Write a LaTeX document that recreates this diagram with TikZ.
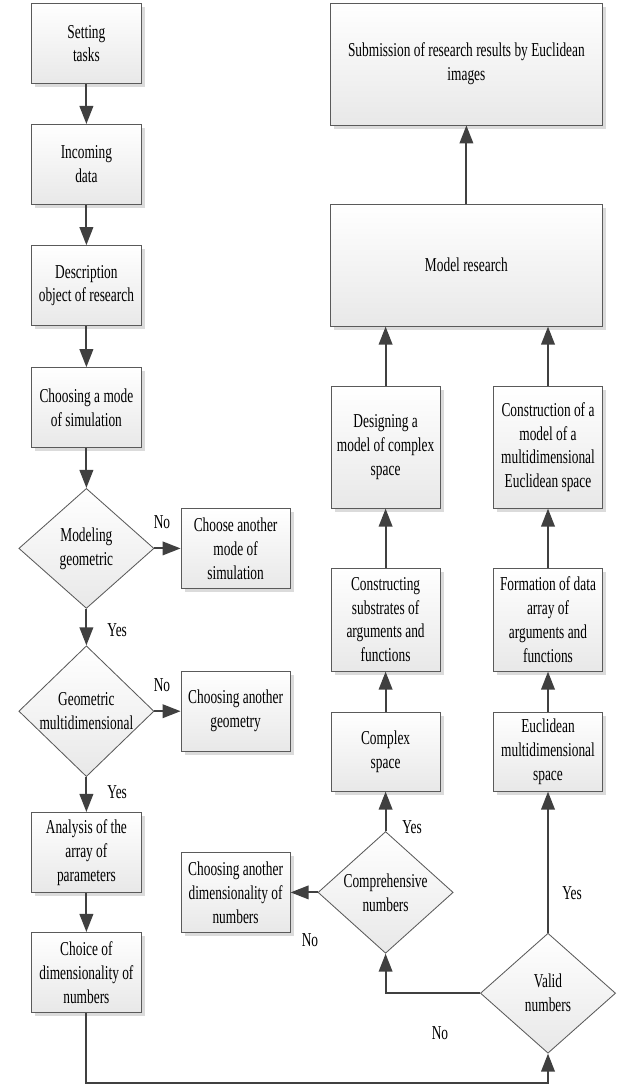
\documentclass[tikz,border=0pt]{standalone}
\usepackage{fontspec}
\setmainfont{Liberation Serif}[FakeStretch=0.68]
\usepackage{tikz}
\usetikzlibrary{arrows.meta,shapes.geometric,shadows}

\definecolor{linegray}{HTML}{404040}
\definecolor{edgegray}{HTML}{5A5A5A}

\begin{document}
\begin{tikzpicture}[
  font=\fontsize{14}{17}\selectfont,
  box/.style={rectangle, draw=edgegray, line width=0.6pt, top color=white, bottom color=black!9,
    align=center, inner sep=1pt, minimum width=2.73cm, minimum height=2cm,
    drop shadow={shadow xshift=0.09cm, shadow yshift=-0.09cm, fill=black!20, opacity=0.7}},
  ask/.style={diamond, draw=edgegray, line width=0.6pt, top color=white, bottom color=black!9,
    align=center, inner sep=0pt, minimum width=3.38cm, minimum height=3cm},
  flow/.style={draw=linegray, line width=1.3pt, -{Triangle[length=0.45cm, width=0.34cm]}},
  lbl/.style={inner sep=0pt}
  ]
	\useasboundingbox (0cm,0cm) rectangle (15.55cm,-27.15cm);
	% left column
	\node[box] (B1) at (2.16cm,-1.09cm) {Setting\\tasks};
	\node[box] (B2) at (2.16cm,-4.11cm) {Incoming\\data};
	\node[box] (B3) at (2.16cm,-7.14cm) {Description\\object of research};
	\node[box] (B4) at (2.16cm,-10.19cm) {Choosing a mode\\of simulation};
	\node[ask] (D1) at (2.16cm,-13.71cm) {Modeling\\geometric};
	\node[box] (A1) at (5.89cm,-13.71cm) {Choose another\\mode of\\simulation};
	\node[ask] (D2) at (2.16cm,-17.78cm) {Geometric\\multidimensional};
	\node[box] (A2) at (5.89cm,-17.78cm) {Choosing another\\geometry};
	\node[box] (B5) at (2.16cm,-21.31cm) {Analysis of the\\array of\\parameters};
	\node[box] (B6) at (2.16cm,-24.31cm) {Choice of\\dimensionality of\\numbers};
	\node[box] (A3) at (5.89cm,-22.31cm) {Choosing another\\dimensionality of\\numbers};
	% right columns
	\node[box, minimum width=6.78cm, minimum height=3.05cm] (R1) at (11.66cm,-1.6cm) {Submission of research results by Euclidean\\images};
	\node[box, minimum width=6.78cm, minimum height=3.05cm] (R2) at (11.66cm,-6.63cm) {Model research};
	\node[box, minimum height=3.05cm] (C1) at (9.64cm,-11.18cm) {Designing a\\model of complex\\space};
	\node[box, minimum height=2.58cm] (C2) at (9.64cm,-15.49cm) {Constructing\\substrates of\\arguments and\\functions};
	\node[box, minimum height=1.98cm] (C3) at (9.64cm,-18.79cm) {Complex\\space};
	\node[ask] (D3) at (9.64cm,-22.31cm) {Comprehensive\\numbers};
	\node[box, minimum height=3.05cm] (E1) at (13.7cm,-11.18cm) {Construction of a\\model of a\\multidimensional\\Euclidean space};
	\node[box, minimum height=2.58cm] (E2) at (13.7cm,-15.49cm) {Formation of data\\array of\\arguments and\\functions};
	\node[box, minimum height=1.98cm] (E3) at (13.7cm,-18.79cm) {Euclidean\\multidimensional\\space};
	\node[ask] (D4) at (13.7cm,-24.83cm) {Valid\\numbers};
	\coordinate (K1) at (2.16cm,-27.08cm);
	\coordinate (K2) at (13.7cm,-27.08cm);
	% yes / no
	\node[lbl] (L1) at (4.05cm,-13.05cm) {No};
	\node[lbl] (L2) at (2.93cm,-15.75cm) {Yes};
	\node[lbl] (L3) at (4.05cm,-17.13cm) {No};
	\node[lbl] (L4) at (2.93cm,-19.8cm) {Yes};
	\node[lbl] (L5) at (7.75cm,-23.5cm) {No};
	\node[lbl] (L6) at (10.3cm,-20.68cm) {Yes};
	\node[lbl] (L7) at (14.3cm,-22.33cm) {Yes};
	\node[lbl] (L8) at (11cm,-25.83cm) {No};
	\draw[flow] (B1) -- (B2);
	\draw[flow] (B2) -- (B3);
	\draw[flow] (B3) -- (B4);
	\draw[flow] (B4) -- (D1);
	\draw[flow] (D1) -- (A1);
	\draw[flow] (D1) -- (D2);
	\draw[flow] (D2) -- (A2);
	\draw[flow] (D2) -- (B5);
	\draw[flow] (B5) -- (B6);
	\draw[flow] (B6) -- (K1) -- (K2) -- (D4);
	\draw[flow] (D4.west) -| (D3.south);
	\draw[flow] (D3) -- (A3);
	\draw[flow] (D3) -- (C3);
	\draw[flow] (C3) -- (C2);
	\draw[flow] (C2) -- (C1);
	\draw[flow] (C1) -- (C1 |- R2.south);
	\draw[flow] (D4) -- (E3);
	\draw[flow] (E3) -- (E2);
	\draw[flow] (E2) -- (E1);
	\draw[flow] (E1) -- (E1 |- R2.south);
	\draw[flow] (R2) -- (R1);
\end{tikzpicture}
\end{document}
